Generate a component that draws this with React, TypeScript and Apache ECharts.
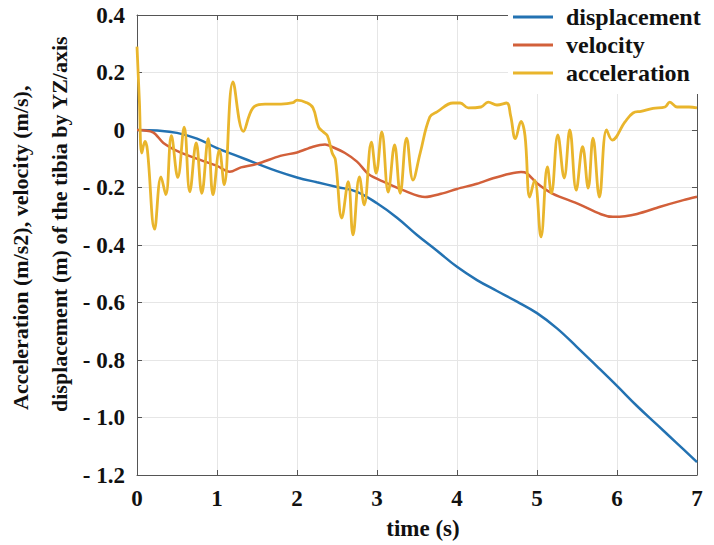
import React, { useEffect, useRef } from "react";
import * as echarts from "echarts";

const xTicks = [0, 1, 2, 3, 4, 5, 6, 7];
const yTickStep = 0.2;

const dispT = [0, 0.25, 0.5, 0.75, 1, 1.25, 1.5, 1.75, 2, 2.25, 2.5, 2.75, 3, 3.25, 3.5, 3.75, 4, 4.25, 4.5, 4.75, 5, 5.25, 5.5, 5.75, 6, 6.25, 6.5, 6.75, 7];
const dispV = [0, -0.002, -0.01, -0.03, -0.063, -0.09, -0.117, -0.143, -0.165, -0.182, -0.198, -0.215, -0.255, -0.305, -0.365, -0.42, -0.476, -0.522, -0.56, -0.597, -0.637, -0.69, -0.755, -0.822, -0.89, -0.96, -1.025, -1.09, -1.155];

const velT = [0, 0.2, 0.33, 0.54, 0.79, 1.0, 1.16, 1.3, 1.5, 1.79, 2.0, 2.2, 2.35, 2.45, 2.6, 2.75, 2.9, 3.1, 3.35, 3.6, 3.8, 4.0, 4.25, 4.45, 4.66, 4.8, 4.87, 5.0, 5.2, 5.5, 5.8, 5.95, 6.1, 6.25, 6.54, 6.83, 7.0];
const velV = [0, -0.008, -0.045, -0.078, -0.104, -0.125, -0.145, -0.13, -0.118, -0.09, -0.078, -0.058, -0.05, -0.06, -0.08, -0.11, -0.155, -0.182, -0.212, -0.233, -0.222, -0.205, -0.187, -0.168, -0.152, -0.146, -0.15, -0.185, -0.222, -0.255, -0.293, -0.302, -0.3, -0.292, -0.267, -0.244, -0.232];

const accT = [0, 0.03, 0.06, 0.1, 0.13, 0.22, 0.3, 0.36, 0.43, 0.51, 0.59, 0.66, 0.74, 0.81, 0.89, 0.95, 1.03, 1.09, 1.2, 1.33, 1.45, 1.6, 1.8, 1.95, 2.0, 2.12, 2.2, 2.27, 2.33, 2.38, 2.44, 2.48, 2.56, 2.64, 2.7, 2.78, 2.84, 2.93, 2.99, 3.06, 3.14, 3.22, 3.29, 3.37, 3.45, 3.54, 3.66, 3.75, 3.95, 4.04, 4.14, 4.3, 4.39, 4.5, 4.62, 4.67, 4.73, 4.8, 4.85, 4.91, 4.97, 5.05, 5.13, 5.18, 5.26, 5.34, 5.41, 5.49, 5.57, 5.64, 5.7, 5.78, 5.87, 5.94, 6.1, 6.2, 6.3, 6.45, 6.6, 6.66, 6.75, 6.9, 7.0];
const accV = [0.29, 0.1, -0.08, -0.04, -0.07, -0.345, -0.163, -0.225, -0.02, -0.165, 0.01, -0.215, -0.045, -0.22, -0.03, -0.225, -0.07, -0.19, 0.167, -0.005, 0.077, 0.09, 0.09, 0.095, 0.104, 0.095, 0.077, 0.01, -0.007, -0.02, -0.08, -0.104, -0.306, -0.18, -0.365, -0.163, -0.26, -0.042, -0.15, -0.007, -0.216, -0.052, -0.22, -0.028, -0.174, -0.08, 0.045, 0.063, 0.094, 0.094, 0.077, 0.08, 0.097, 0.087, 0.094, 0.05, -0.03, 0.03, -0.02, -0.233, -0.174, -0.372, -0.128, -0.22, -0.017, -0.167, 0, -0.209, -0.058, -0.202, -0.028, -0.233, 0, -0.035, 0.028, 0.059, 0.065, 0.075, 0.08, 0.097, 0.08, 0.08, 0.077];

const seriesNames = ["displacement", "velocity", "acceleration"];
const seriesColors = ["#2372b2", "#d2603a", "#e9b52c"];
const yTitle1 = "Acceleration (m/s2), velocity (m/s),";
const yTitle2 = "displacement (m) of the tibia by YZ/axis";
const xTitle = "time (s)";

const FONT = "Times New Roman, Liberation Serif, DejaVu Serif, serif";

function pairs(t: number[], v: number[]) {
  return t.map((x, i) => [x, v[i]]);
}

export default function App() {
  const ref = useRef<HTMLDivElement>(null);
  useEffect(() => {
    if (!ref.current) return;
    const chart = echarts.init(ref.current, undefined, { renderer: "svg" });
    const axisLine = { show: true, onZero: false, lineStyle: { color: "#555", width: 1 } };
    const tick = { show: true, inside: true, length: 5, lineStyle: { color: "#555" } };
    const labelStyle = { fontFamily: FONT, fontWeight: "bold", fontSize: 23, color: "#111" };
    const fmtY = (v: number) => {
      const r = Math.round(v * 10) / 10;
      if (r === 0) return "0";
      if (r < 0) return "- " + Math.abs(r).toFixed(1);
      return r.toFixed(1);
    };
    chart.setOption({
      animation: false,
      backgroundColor: "#fff",
      grid: { left: 137, right: 17, top: 15, bottom: 70 },
      xAxis: [
        {
          type: "value", min: xTicks[0], max: xTicks[xTicks.length - 1], interval: 1,
          axisLine, axisTick: tick,
          axisLabel: { ...labelStyle, margin: 12 },
          splitLine: { show: true, lineStyle: { color: "#e6e6e6" } },
        },
        {
          type: "value", position: "top", min: xTicks[0], max: xTicks[xTicks.length - 1], interval: 1,
          axisLine, axisTick: tick, axisLabel: { show: false }, splitLine: { show: false },
        },
      ],
      yAxis: [
        {
          type: "value", min: -1.2, max: 0.4, interval: yTickStep,
          axisLine, axisTick: tick,
          axisLabel: { ...labelStyle, margin: 12, formatter: fmtY },
          splitLine: { show: true, lineStyle: { color: "#e6e6e6" } },
        },
        {
          type: "value", position: "right", min: -1.2, max: 0.4, interval: yTickStep,
          axisLine, axisTick: tick, axisLabel: { show: false }, splitLine: { show: false },
        },
      ],
      legend: {
        orient: "vertical", left: 508, top: 0,
        padding: [4, 12, 8, 5], itemGap: 2, itemWidth: 40, itemHeight: 3,
        icon: "rect", backgroundColor: "#fff",
        textStyle: { ...labelStyle, fontSize: 24, lineHeight: 26, padding: [0, 0, 0, 8] },
        data: seriesNames,
      },
      graphic: [
        {
          type: "text", x: 20, y: 410, rotation: Math.PI / 2,
          style: { text: yTitle1, fontFamily: FONT, fontWeight: "bold", fontSize: 22, fill: "#111", textAlign: "left", textVerticalAlign: "middle" },
        },
        {
          type: "text", x: 59, y: 412, rotation: Math.PI / 2,
          style: { text: yTitle2, fontFamily: FONT, fontWeight: "bold", fontSize: 22, fill: "#111", textAlign: "left", textVerticalAlign: "middle" },
        },
        {
          type: "text", x: 423, y: 528,
          style: { text: xTitle, fontFamily: FONT, fontWeight: "bold", fontSize: 23, fill: "#111", textAlign: "center", textVerticalAlign: "middle" },
        },
      ],
      series: [
        { name: seriesNames[0], type: "line", data: pairs(dispT, dispV), smooth: 0.4, showSymbol: false, lineStyle: { width: 2.5, color: seriesColors[0] }, itemStyle: { color: seriesColors[0] } },
        { name: seriesNames[1], type: "line", data: pairs(velT, velV), smooth: 0.3, showSymbol: false, lineStyle: { width: 2.5, color: seriesColors[1] }, itemStyle: { color: seriesColors[1] } },
        { name: seriesNames[2], type: "line", data: pairs(accT, accV), smooth: 0.4, showSymbol: false, lineStyle: { width: 2.8, color: seriesColors[2] }, itemStyle: { color: seriesColors[2] } },
      ],
    });
    return () => chart.dispose();
  }, []);
  return <div ref={ref} style={{ position: "fixed", left: 0, top: 0, width: 714, height: 545 }} />;
}
